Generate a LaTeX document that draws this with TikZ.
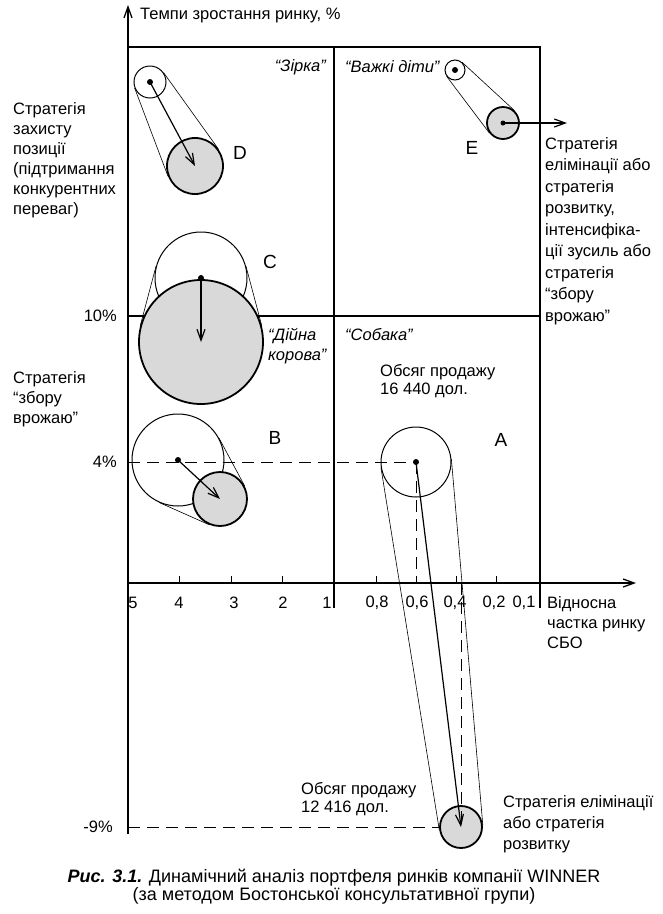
\documentclass[tikz,border=0pt]{standalone}
\usepackage{fontspec}
\setmainfont{Liberation Sans}
\usepackage{tikz}
\usetikzlibrary{positioning,arrows.meta}

\begin{document}
\begin{tikzpicture}[x=1pt, y=-1pt, >={Straight Barb[length=11pt,width=8pt]},
        txt/.style={font=\fontsize{16.5}{20}\selectfont, inner sep=0pt, align=left},
        quad/.style={font=\fontsize{16.5}{20}\selectfont\itshape, inner sep=0pt, align=left},
        letter/.style={font=\fontsize{19}{19}\selectfont, inner sep=0pt},
        old/.style={draw, circle, inner sep=0pt, line width=1pt},
        new/.style={draw, circle, inner sep=0pt, line width=1.8pt, fill=gray!30},
        dot/.style={fill, circle, inner sep=0pt, minimum size=6pt},
        tang/.style={line width=0.6pt},
        grid/.style={line width=1.3pt},
        guide/.style={dash pattern=on 12pt off 7pt, line width=0.9pt}]
        \useasboundingbox (0,0) rectangle (663,914);
        \coordinate (O) at (128,583);
        \coordinate (ytop) at (128,5);
        \coordinate (ybot) at (128,834);
        \coordinate (xend) at (636,583);
        \coordinate (y4) at (128,462);
        \coordinate (y9) at (128,827);
        \coordinate (Eout) at (567,123);

        \draw[grid, ->] (ybot) -- (ytop);
        \draw[grid, ->] (O) -- (xend);
        \draw[grid] (128,47) -- (540,47) -- (540,608);
        \draw[grid] (334,47) -- (334,608);
        \draw[grid] (128,316) -- (540,316);
        \foreach \x in {179,231,282,376,416,456,496}
            \draw[line width=1pt] (\x,576) -- (\x,583);
        \foreach \x/\l in {133/5,179/4,234/3,283/2,327/1,377/{0,8},417/{0,6},455/{0,4},494/{0,2},524/{0,1}}
            \node[txt] at (\x,603) {\l};

        \node[txt, anchor=west] (title) at (140,15) {Темпи зростання ринку, \%};
        \node[txt, anchor=east] (p10) at (117,316) {10\%};
        \node[txt, anchor=east] (p4) at (117,462) {4\%};
        \node[txt, anchor=east] (p9) at (113,827) {-9\%};
        \node[txt, anchor=west] (share) at (547,623) {Відносна\\частка ринку\\СБО};

        \node[quad, anchor=east] (star) at (326,67) {“Зірка”};
        \node[quad, anchor=west] (kids) at (345,67) {“Важкі діти”};
        \node[quad, anchor=west] (dog) at (345,335) {“Собака”};
        \node[quad, anchor=west] (cow) at (268,346) {“Дійна\\корова”};

        \node[txt, anchor=west] (defend) at (13,160) {Стратегія\\захисту\\позиції\\(підтримання\\конкурентних\\переваг)};
        \node[txt, anchor=west] (harvest) at (13,399) {Стратегія\\“збору\\врожаю”};
        \node[txt, anchor=west, font=\fontsize{16.5}{21.5}\selectfont] (elim) at (545,231) {Стратегія\\елімінації або\\стратегія\\розвитку,\\інтенсифіка-\\ції зусиль або\\стратегія\\“збору\\врожаю”};
        \node[txt, anchor=west, font=\fontsize{16.5}{18}\selectfont] (salesold) at (380,381) {Обсяг продажу\\16 440 дол.};
        \node[txt, anchor=west, font=\fontsize{16.5}{18}\selectfont] (salesnew) at (301,799) {Обсяг продажу\\12 416 дол.};
        \node[txt, anchor=west, font=\fontsize{16.5}{21}\selectfont] (elimA) at (503,824) {Стратегія елімінації\\або стратегія\\розвитку};

        \node[old, minimum size=32pt] (Dold) at (150,82) {};
        \node[old, minimum size=20pt] (Eold) at (455,70) {};
        \node[old, minimum size=92pt] (Cold) at (201,278) {};
        \node[old, minimum size=92pt] (Bold) at (178,460) {};
        \node[old, minimum size=70pt] (Aold) at (416,462) {};
        \node[new, minimum size=56pt] (Dnew) at (195,166) {};
        \node[new, minimum size=32pt] (Enew) at (503,123) {};
        \node[new, minimum size=124pt] (Cnew) at (201,342) {};
        \node[new, minimum size=54pt] (Bnew) at (220,499) {};
        \node[new, minimum size=42pt] (Anew) at (461,827) {};

        \draw[tang] (Dold.35) -- (Dnew.35) (Dold.201) -- (Dnew.201);
        \draw[tang] (Eold.47) -- (Enew.47) (Eold.217) -- (Enew.217);
        \draw[tang] (Cold.15) -- (Cnew.15) (Cold.165) -- (Cnew.165);
        \draw[tang] (Bold.28) -- (Bnew.28) (Bold.246) -- (Bnew.246);
        \draw[tang] (Aold.5) -- (Anew.5) (Aold.189) -- (Anew.189);

        \draw[guide] (y4) -- (Aold.center);
        \draw[guide] (Aold.center) -- (Aold |- O);
        \draw[guide] (Anew |- O) -- (Anew.center);
        \draw[guide] (y9) -- (Anew.west);

        \node[dot] (Ddot) at (Dold) {};
        \node[dot] (Edot) at (Eold) {};
        \node[dot, minimum size=5pt] (Edot2) at (Enew) {};
        \node[dot] (Cdot) at (Cold) {};
        \node[dot] (Bdot) at (Bold) {};
        \node[dot] (Adot) at (Aold) {};
        \draw[line width=1.2pt, ->] (Dold.center) -- (Dnew.center);
        \draw[line width=1.2pt, ->] (Enew.center) -- (Eout);
        \draw[line width=1.2pt, ->] (Cold.center) -- (Cnew.center);
        \draw[line width=1.2pt, ->] (Bold.center) -- (Bnew.center);
        \draw[line width=1.2pt, ->] (Aold.center) -- (Anew.center);

        \node[letter] (Dlab) at (240,153) {D};
        \node[letter] (Elab) at (472,148) {E};
        \node[letter] (Clab) at (270,262) {C};
        \node[letter] (Blab) at (275,438) {B};
        \node[letter] (Alab) at (501,440) {A};

        \node[txt, align=center, font=\fontsize{18}{18}\selectfont] (caption) at (334,887) {\textbf{\textit{Рис. 3.1.}} Динамічний аналіз портфеля ринків компанії WINNER\\(за методом Бостонської консультативної групи)};
\end{tikzpicture}
\end{document}
